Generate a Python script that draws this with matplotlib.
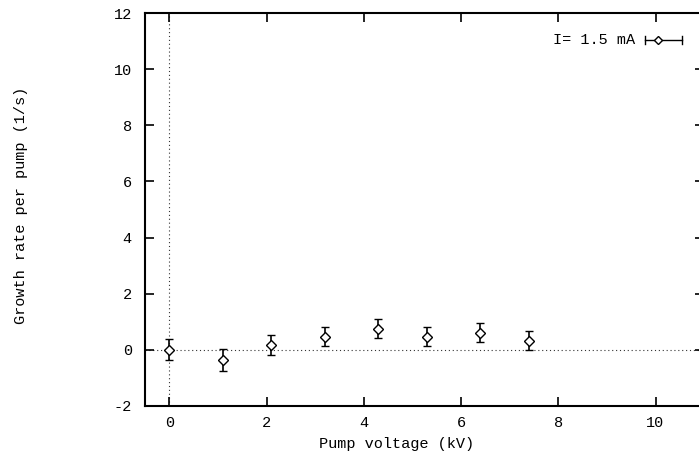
import matplotlib
matplotlib.use("Agg")
import matplotlib.pyplot as plt

# growth rate per pump vs pump voltage, I = 1.5 mA
voltage = [0.0, 1.1, 2.1, 3.2, 4.3, 5.3, 6.4, 7.4]
rate = [0.0, -0.36, 0.18, 0.47, 0.76, 0.47, 0.61, 0.33]
rate_err = [0.37, 0.38, 0.36, 0.35, 0.34, 0.35, 0.33, 0.35]

x_ticks = [0, 2, 4, 6, 8, 10]
y_ticks = [-2, 0, 2, 4, 6, 8, 10, 12]

plt.rcParams['font.family'] = ['Liberation Mono', 'DejaVu Sans Mono']
plt.rcParams['font.size'] = 11
plt.rcParams['axes.unicode_minus'] = False

fig = plt.figure(figsize=(6.99, 4.66), dpi=100)
# right border sits just past the edge of the image
ax = fig.add_axes([0.2074, 0.1288, 0.8, 0.8433])

ax.axhline(0, color='0.2', lw=0.8, ls=(0, (1, 2.5)), zorder=1)
ax.axvline(0, color='0.2', lw=0.8, ls=(0, (1, 2.5)), zorder=1)

ax.errorbar(voltage, rate, yerr=rate_err, fmt='D', mfc='white', mec='black',
            mew=1.0, ms=5.5, ecolor='black', elinewidth=1.2, capsize=3,
            capthick=1.2, zorder=3)

ax.set_xlim(-0.5, 11)
ax.set_ylim(-2, 12)
ax.set_xticks(x_ticks)
ax.set_yticks(y_ticks)
ax.tick_params(direction='in', length=6.5, width=1.2, top=True, right=True)
ax.tick_params(axis='x', pad=7)
ax.tick_params(axis='y', pad=9.5)
for sp in ax.spines.values():
    sp.set_linewidth(1.5)

ax.set_xlabel('Pump voltage (kV)')
ax.xaxis.set_label_coords(0.45, -0.079)
ax.set_ylabel('Growth rate per pump (1/s)')
ax.yaxis.set_label_coords(-0.209, 0.51)

# key entry: label with a horizontal errorbar sample
ax.text(0.877, 0.932, 'I= 1.5 mA', transform=ax.transAxes, ha='right', va='center')
ax.plot([0.894, 0.960], [0.932, 0.932], transform=ax.transAxes, color='black', lw=1.0)
for cx in (0.894, 0.960):
    ax.plot([cx, cx], [0.922, 0.942], transform=ax.transAxes, color='black', lw=1.0)
ax.plot([0.917], [0.932], transform=ax.transAxes, marker='D', ms=4.5,
        mfc='white', mec='black', mew=1.0)

fig.savefig('out.png', dpi=100)
